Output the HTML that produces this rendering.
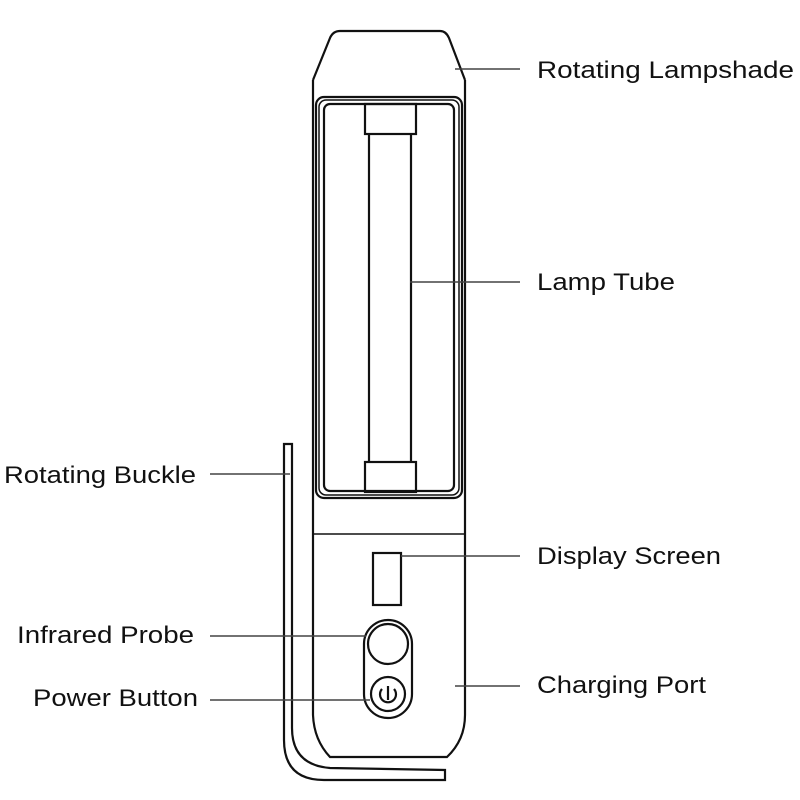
<!DOCTYPE html>
<html><head><style>html,body{margin:0;padding:0;background:#fff}svg{display:block}</style></head>
<body>
<svg width="800" height="800" viewBox="0 0 800 800" xmlns="http://www.w3.org/2000/svg">
<g fill="none" stroke="#111" stroke-width="2.2">
<!-- lampshade -->
<path d="M313,80 L330,38 Q333,31 340,31 L440,31 Q446,31 449,38 L465,80"/>
<!-- body -->
<path d="M313,80 L313,715 Q314,740 330,757 L447,757 Q465,740 465,715 L465,80"/>
<!-- window -->
<rect x="316" y="97" width="146" height="401" rx="8"/>
<rect x="319" y="100" width="140" height="395" rx="7" stroke-width="1.5"/>
<rect x="324" y="104" width="130" height="387" rx="6"/>
<!-- tube -->
<rect x="365" y="104" width="51" height="30"/>
<rect x="365" y="462" width="51" height="30"/>
<line x1="369" y1="134" x2="369" y2="462"/>
<line x1="411" y1="134" x2="411" y2="462"/>
<!-- divider -->
<line x1="313" y1="534" x2="465" y2="534" stroke-width="1.5"/>
<!-- display -->
<rect x="373" y="553" width="28" height="52"/>
<!-- oval -->
<rect x="364" y="620" width="48" height="98" rx="24"/>
<circle cx="388" cy="644" r="20"/>
<circle cx="388" cy="694" r="17"/>
<path d="M382,689 A8,8 0 1,0 394,689"/>
<line x1="388" y1="686" x2="388" y2="700"/>
<!-- buckle -->
<path d="M284,444 L284,740 Q284,780 324,780 L445,780 L445,770 L330,768 Q292,765 292,728 L292,444 Z"/>
</g>
<g stroke="#444" stroke-width="1.5">
<line x1="455" y1="69" x2="520" y2="69"/>
<line x1="410" y1="282" x2="520" y2="282"/>
<line x1="210" y1="474" x2="290" y2="474"/>
<line x1="401" y1="556" x2="520" y2="556"/>
<line x1="210" y1="636" x2="366" y2="636"/>
<line x1="210" y1="700" x2="370" y2="700"/>
<line x1="455" y1="686" x2="520" y2="686"/>
</g>
<g font-family="Liberation Sans, sans-serif" font-size="24" fill="#111">
<text x="537" y="78" textLength="257" lengthAdjust="spacingAndGlyphs">Rotating Lampshade</text>
<text x="537" y="290" textLength="138" lengthAdjust="spacingAndGlyphs">Lamp Tube</text>
<text x="4" y="483" textLength="192" lengthAdjust="spacingAndGlyphs">Rotating Buckle</text>
<text x="537" y="564" textLength="184" lengthAdjust="spacingAndGlyphs">Display Screen</text>
<text x="17" y="643" textLength="177" lengthAdjust="spacingAndGlyphs">Infrared Probe</text>
<text x="33" y="706" textLength="165" lengthAdjust="spacingAndGlyphs">Power Button</text>
<text x="537" y="693" textLength="169" lengthAdjust="spacingAndGlyphs">Charging Port</text>
</g>
</svg>
</body></html>
